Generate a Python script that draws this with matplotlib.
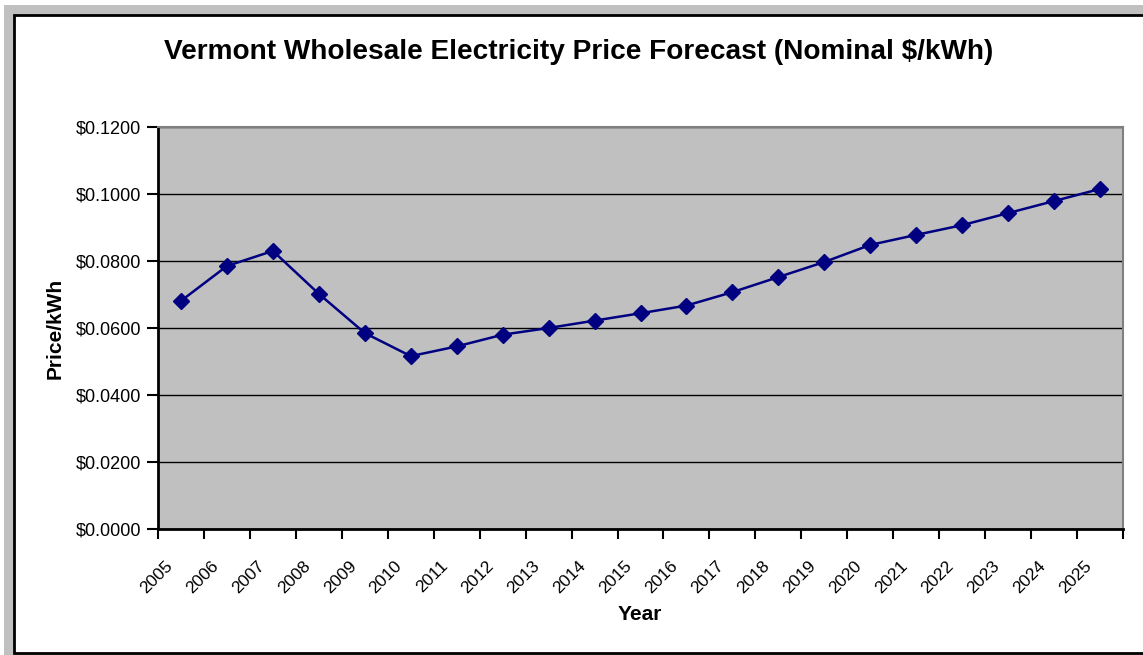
import numpy as np
import matplotlib
matplotlib.use("Agg")
import matplotlib.pyplot as plt
import matplotlib.transforms as mtransforms
from matplotlib.patches import Rectangle
from matplotlib.ticker import FuncFormatter, FixedLocator

# =====================================================
# Data
# =====================================================

years = [str(y) for y in range(2005, 2026)]

prices = [
    0.0681, 0.0785, 0.0830, 0.0702, 0.0585, 0.0516, 0.0545,
    0.0580, 0.0600, 0.0622, 0.0644, 0.0667, 0.0707, 0.0752,
    0.0797, 0.0848, 0.0878, 0.0907, 0.0943, 0.0979, 0.1015,
]

y_ticks = [0.0, 0.02, 0.04, 0.06, 0.08, 0.10, 0.12]

TITLE = "Vermont Wholesale Electricity Price Forecast (Nominal $/kWh)"

plt.rcParams["font.family"] = ["Liberation Sans", "DejaVu Sans"]

W, H = 1143, 655
fig = plt.figure(figsize=(W / 100, H / 100), dpi=100)
fig.patch.set_facecolor("white")

# =====================================================
# Chart frame (gray surround, white chart area)
# =====================================================

fig.patches.append(Rectangle(
    (4 / W, 0), 1.0, 1 - 5 / H,
    transform=fig.transFigure, facecolor="#c0c0c0",
    edgecolor="none", zorder=-3
))
fig.patches.append(Rectangle(
    (14 / W, 2 / H), 1.0, (653 - 15) / H,
    transform=fig.transFigure, facecolor="white",
    edgecolor="black", linewidth=2, zorder=-2
))

# =====================================================
# Plot area
# =====================================================

left, right, top, bottom = 158, 1123, 127, 529
ax = fig.add_axes([
    left / W, (H - bottom) / H,
    (right - left) / W, (bottom - top) / H
])
ax.set_facecolor("#c0c0c0")

x = np.arange(len(years))
ax.plot(
    x, prices,
    color="#000080", linewidth=1.8,
    marker="D", markersize=8, markerfacecolor="#000080",
    markeredgecolor="#000080", zorder=3
)

ax.set_xlim(-0.5, len(years) - 0.5)
ax.set_ylim(0, 0.12)

ax.set_yticks(y_ticks)
ax.yaxis.set_major_formatter(FuncFormatter(lambda v, p: f"${v:.4f}"))
ax.grid(axis="y", color="black", linewidth=1)
ax.set_axisbelow(True)

# ticks on category boundaries, labels on category centres
ax.xaxis.set_major_locator(FixedLocator(x))
ax.set_xticklabels(years, rotation=45, ha="right", va="center",
                   rotation_mode="anchor", fontsize=12.5)
ax.xaxis.set_minor_locator(FixedLocator(np.arange(len(years) + 1) - 0.5))
ax.tick_params(axis="x", which="major", length=0, pad=25)
ax.tick_params(axis="x", which="minor", length=7, width=1.5,
               direction="out", color="black")
ax.tick_params(axis="y", length=8, width=1.5, labelsize=13, pad=4)

shift = mtransforms.ScaledTranslation(-11 / 100, 0, fig.dpi_scale_trans)
for lbl in ax.get_xticklabels():
    lbl.set_transform(lbl.get_transform() + shift)

for side in ("left", "bottom"):
    ax.spines[side].set_color("black")
    ax.spines[side].set_linewidth(2)
for side in ("top", "right"):
    ax.spines[side].set_color("#808080")
    ax.spines[side].set_linewidth(1.5)

# =====================================================
# Text
# =====================================================

fig.text(579 / W, 1 - 52 / H, TITLE, ha="center", va="center",
         fontsize=20.2, fontweight="bold")
fig.text(55 / W, 1 - 328 / H, "Price/kWh", ha="center", va="center",
         rotation=90, fontsize=15, fontweight="bold")
fig.text(640 / W, 1 - 615 / H, "Year", ha="center", va="center",
         fontsize=15, fontweight="bold")

fig.savefig("out.png", dpi=100)
